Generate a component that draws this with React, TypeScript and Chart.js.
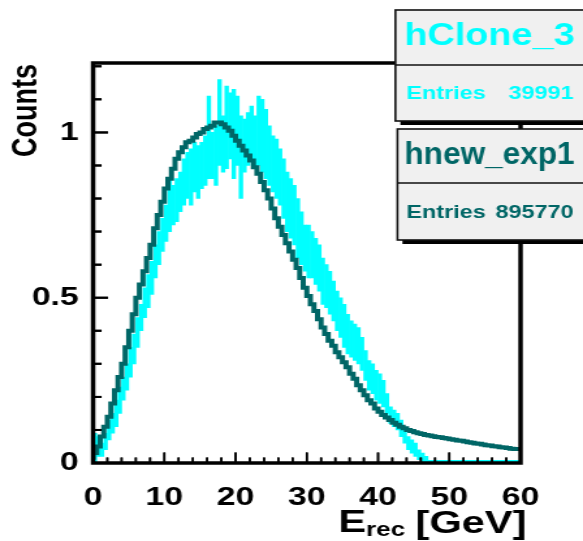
import React, { useEffect, useRef } from 'react';
import { Chart, registerables } from 'chart.js';

Chart.register(...registerables);

// The reference is a horizontally stretched ROOT canvas: draw on a narrower
// canvas and stretch it with CSS by the same factor.
const SX = 1.3;
const CANVAS_W = 448;
const CANVAS_H = 541;
const FONT = '"Liberation Sans", Arial, Helvetica, sans-serif';

const BIN_WIDTH = 0.5;
const X_MIN = 0;
const X_MAX = 60;
const Y_MAX = 1.21;

const xMajorTicks = [0, 10, 20, 30, 40, 50, 60];
const yMajorTicks = [0, 0.5, 1];
const xMinorStep = 2;
const yMinorStep = 0.1;

const xTitleMain = 'E';
const xTitleSub = 'rec';
const xTitleUnit = '[GeV]';
const yTitle = 'Counts';

// hnew_exp1 (dark teal), 0.5 GeV bins from 0 to 60
const darkCounts = [
  0.01, 0.03, 0.05, 0.08, 0.11, 0.14, 0.18, 0.22, 0.26, 0.30,
  0.35, 0.40, 0.45, 0.50, 0.54, 0.58, 0.62, 0.66, 0.71, 0.75,
  0.79, 0.83, 0.86, 0.89, 0.92, 0.94, 0.955, 0.97, 0.975, 0.985,
  0.995, 1.00, 1.01, 1.015, 1.02, 1.03, 1.03, 1.025, 1.015, 1.005,
  0.99, 0.975, 0.96, 0.945, 0.93, 0.915, 0.895, 0.875, 0.85, 0.825,
  0.80, 0.77, 0.74, 0.715, 0.69, 0.665, 0.64, 0.615, 0.59, 0.56,
  0.53, 0.505, 0.48, 0.46, 0.435, 0.41, 0.39, 0.37, 0.355, 0.335,
  0.32, 0.305, 0.29, 0.27, 0.255, 0.235, 0.22, 0.205, 0.19, 0.18,
  0.165, 0.155, 0.145, 0.138, 0.13, 0.122, 0.116, 0.11, 0.105, 0.10,
  0.097, 0.093, 0.09, 0.088, 0.085, 0.083, 0.081, 0.079, 0.078, 0.076,
  0.074, 0.072, 0.07, 0.068, 0.067, 0.065, 0.063, 0.061, 0.059, 0.058,
  0.056, 0.054, 0.053, 0.051, 0.05, 0.048, 0.047, 0.045, 0.043, 0.042,
];

// hClone_3 (cyan) error band: lower / upper edge per 0.5 GeV bin
const cyanLow = [
  0.00, 0.02, 0.02, 0.04, 0.07, 0.09, 0.11, 0.15, 0.19, 0.22,
  0.26, 0.30, 0.35, 0.40, 0.44, 0.47, 0.51, 0.56, 0.60, 0.64,
  0.67, 0.70, 0.72, 0.73, 0.76, 0.78, 0.80, 0.78, 0.82, 0.80,
  0.83, 0.84, 0.86, 0.86, 0.84, 0.90, 0.88, 0.89, 0.92, 0.86,
  0.90, 0.80, 0.88, 0.90, 0.92, 0.90, 0.90, 0.88, 0.86, 0.84,
  0.82, 0.80, 0.78, 0.74, 0.70, 0.68, 0.66, 0.62, 0.60, 0.58,
  0.56, 0.56, 0.54, 0.52, 0.48, 0.47, 0.45, 0.43, 0.40, 0.38,
  0.35, 0.33, 0.32, 0.31, 0.30, 0.28, 0.25, 0.22, 0.21, 0.19,
  0.18, 0.17, 0.15, 0.12, 0.11, 0.10, 0.08, 0.06, 0.04, 0.03,
  0.02, 0.01, 0, 0, 0, 0, 0, 0, 0, 0,
  0, 0, 0, 0, 0, 0, 0, 0, 0, 0,
  0, 0, 0, 0, 0, 0, 0, 0, 0, 0,
];
const cyanHigh = [
  0.09, 0.08, 0.06, 0.09, 0.13, 0.15, 0.19, 0.23, 0.26, 0.30,
  0.35, 0.39, 0.44, 0.48, 0.53, 0.57, 0.61, 0.66, 0.70, 0.74,
  0.78, 0.86, 0.84, 0.86, 0.88, 0.92, 0.94, 0.95, 0.97, 0.96,
  0.97, 0.99, 1.11, 1.00, 1.02, 1.16, 1.05, 1.14, 1.12, 1.13,
  1.11, 1.05, 1.04, 1.06, 1.08, 1.05, 1.11, 1.10, 1.07, 1.02,
  0.99, 0.98, 0.95, 0.92, 0.88, 0.86, 0.84, 0.80, 0.76, 0.72,
  0.72, 0.70, 0.68, 0.66, 0.62, 0.60, 0.58, 0.55, 0.52, 0.50,
  0.48, 0.45, 0.43, 0.42, 0.41, 0.38, 0.34, 0.31, 0.30, 0.28,
  0.27, 0.25, 0.21, 0.17, 0.16, 0.15, 0.13, 0.10, 0.08, 0.07,
  0.06, 0.04, 0.03, 0.02, 0.008, 0.008, 0.008, 0.008, 0.008, 0.008,
  0.008, 0.008, 0.008, 0.008, 0.008, 0.008, 0.008, 0.008, 0.008, 0.008,
  0.008, 0.008, 0.008, 0.008, 0.008, 0.008, 0.008, 0.008, 0.008, 0.008,
];

const statNames = ['hClone_3', 'hnew_exp1'];
const statEntries = ['39991', '895770'];
const statColors = ['#00ffff', '#006666'];

const DARK = '#006666';
const CYAN = '#00ffff';

// layout (internal canvas px; x values divided by stretch)
const AREA_LEFT = 93 / SX;
const AREA_RIGHT = 520 / SX;
const AREA_TOP = 63;
const AREA_BOTTOM = 463;
const Y_MAJOR_LEN = 11.5;
const Y_MINOR_LEN = 6.5;
const X_MAJOR_LEN = 10.5;
const X_MINOR_LEN = 5.5;
const PX_PER_X = (AREA_RIGHT - AREA_LEFT) / (X_MAX - X_MIN);
const PX_PER_Y = (AREA_BOTTOM - AREA_TOP) / Y_MAX;

const boxLayout = [
  { left: 395 / SX, top: 10, bottom: 121, divider: 65, titleBase: 45, entriesBase: 99 },
  { left: 397 / SX, top: 129, bottom: 240, divider: 183, titleBase: 164, entriesBase: 218 },
];

const isMajor = (list: number[], v: number) => list.some((t) => Math.abs(t - v) < 1e-6);

const xTickValues: number[] = [];
for (let i = 0; i <= Math.round((X_MAX - X_MIN) / xMinorStep); i++) xTickValues.push(X_MIN + i * xMinorStep);
const yTickValues: number[] = [];
for (let i = 0; i <= Math.round(Y_MAX / yMinorStep - 0.5); i++) yTickValues.push(Math.round(i * yMinorStep * 10) / 10);

function drawTicks(chart: any) {
  const ctx: CanvasRenderingContext2D = chart.ctx;
  const a = chart.chartArea;
  const xs = chart.scales['x'];
  const ys = chart.scales['y'];
  ctx.save();
  ctx.fillStyle = '#000000';
  for (const v of yTickValues) {
    const py = ys.getPixelForValue(v);
    ctx.fillRect(a.left, py - 1, isMajor(yMajorTicks, v) ? Y_MAJOR_LEN : Y_MINOR_LEN, 2);
  }
  for (const v of xTickValues) {
    const px = xs.getPixelForValue(v);
    const len = isMajor(xMajorTicks, v) ? X_MAJOR_LEN : X_MINOR_LEN;
    ctx.fillRect(px - 0.8, a.bottom - len, 1.6, len);
  }
  ctx.restore();
}

function drawFrame(chart: any) {
  const ctx: CanvasRenderingContext2D = chart.ctx;
  const a = chart.chartArea;
  ctx.save();
  ctx.strokeStyle = '#000000';
  ctx.lineWidth = 3.5;
  ctx.strokeRect(a.left, a.top, a.right - a.left, a.bottom - a.top);
  ctx.restore();
}

function drawTitlesAndBoxes(chart: any) {
  const ctx: CanvasRenderingContext2D = chart.ctx;
  ctx.save();
  ctx.fillStyle = '#000';
  ctx.textBaseline = 'alphabetic';

  // y title
  ctx.save();
  ctx.translate(37 / SX, 64);
  ctx.rotate(-Math.PI / 2);
  ctx.font = `bold 27px ${FONT}`;
  ctx.textAlign = 'right';
  ctx.fillText(yTitle, 0, 0);
  ctx.restore();

  // x title: E_rec [GeV]
  ctx.textAlign = 'left';
  const fMain = `bold 32px ${FONT}`;
  const fSub = `bold 20px ${FONT}`;
  ctx.font = fMain;
  const wUnit = ctx.measureText(xTitleUnit).width;
  const wE = ctx.measureText(xTitleMain).width;
  ctx.font = fSub;
  const wSub = ctx.measureText(xTitleSub).width;
  const xRight = 526 / SX;
  const xUnit = xRight - wUnit;
  const xSub = xUnit - 8 - wSub;
  const xE = xSub - wE;
  ctx.font = fMain;
  ctx.fillText(xTitleUnit, xUnit, 533);
  ctx.fillText(xTitleMain, xE, 532);
  ctx.font = fSub;
  ctx.fillText(xTitleSub, xSub, 536);

  // stat boxes
  const boxRight = CANVAS_W + 20;
  for (let i = 0; i < statNames.length; i++) {
    const b = boxLayout[i];
    const h = b.bottom - b.top;
    ctx.fillStyle = '#000';
    ctx.fillRect(b.left + 5 / SX, b.top + 4, boxRight - b.left, h);
    ctx.fillStyle = '#f0f0f0';
    ctx.fillRect(b.left, b.top, boxRight - b.left, h);
    ctx.strokeStyle = '#111';
    ctx.lineWidth = 1.6;
    ctx.strokeRect(b.left, b.top, boxRight - b.left, h);
    ctx.beginPath();
    ctx.moveTo(b.left, b.divider);
    ctx.lineTo(boxRight, b.divider);
    ctx.stroke();

    ctx.fillStyle = statColors[i];
    ctx.font = `bold 31px ${FONT}`;
    ctx.textAlign = 'center';
    ctx.fillText(statNames[i], 489 / SX, b.titleBase, 170 / SX);
    ctx.font = `bold 18px ${FONT}`;
    ctx.textAlign = 'left';
    ctx.fillText('Entries', 406 / SX, b.entriesBase);
    ctx.textAlign = 'right';
    ctx.fillText(statEntries[i], 573 / SX, b.entriesBase);
  }
  ctx.restore();
}

const decorPlugin = {
  id: 'rootDecor',
  afterDraw(chart: any) {
    drawTicks(chart);
    drawFrame(chart);
    drawTitlesAndBoxes(chart);
  },
};

export default function App() {
  const ref = useRef<HTMLCanvasElement | null>(null);

  useEffect(() => {
    if (!ref.current) return;
    const darkPoints = darkCounts.map((v, i) => ({ x: X_MIN + i * BIN_WIDTH, y: v }));
    darkPoints.push({ x: X_MIN + darkCounts.length * BIN_WIDTH, y: darkCounts[darkCounts.length - 1] });
    const cyanBars = cyanLow.map((lo, i) => ({ x: X_MIN + (i + 0.5) * BIN_WIDTH, y: [lo, cyanHigh[i]] }));

    // axis tick marks, drawn inward from the left and bottom axes
    const yTickSegs: any[] = [];
    for (const v of yTickValues) {
      const len = (isMajor(yMajorTicks, v) ? Y_MAJOR_LEN : Y_MINOR_LEN) / PX_PER_X;
      yTickSegs.push({ x: X_MIN, y: v }, { x: X_MIN + len, y: v }, { x: X_MIN + len, y: null });
    }
    const xTickSegs: any[] = [];
    for (const v of xTickValues) {
      const len = (isMajor(xMajorTicks, v) ? X_MAJOR_LEN : X_MINOR_LEN) / PX_PER_Y;
      xTickSegs.push({ x: v, y: 0 }, { x: v, y: len }, { x: v, y: null });
    }

    const chart = new Chart(ref.current, {
      type: 'bar',
      data: {
        datasets: [
          {
            type: 'line',
            label: 'yTicks',
            data: yTickSegs,
            borderColor: '#000',
            borderWidth: 2,
            borderCapStyle: 'butt',
            pointRadius: 0,
            spanGaps: false,
            fill: false,
            clip: false,
          } as any,
          {
            type: 'line',
            label: 'xTicks',
            data: xTickSegs,
            borderColor: '#000',
            borderWidth: 1.6,
            borderCapStyle: 'butt',
            pointRadius: 0,
            spanGaps: false,
            fill: false,
            clip: false,
          } as any,
          {
            type: 'line',
            label: 'hnew_exp1',
            data: darkPoints as any,
            borderColor: DARK,
            borderWidth: 4,
            pointRadius: 0,
            stepped: 'after',
            fill: false,
          } as any,
          {
            type: 'bar',
            label: 'hClone_3',
            data: cyanBars as any,
            backgroundColor: CYAN,
            borderWidth: 0,
            barPercentage: 1,
            categoryPercentage: 1,
            grouped: false,
          } as any,
        ],
      },
      options: {
        responsive: false,
        animation: false,
        devicePixelRatio: 1,
        layout: { padding: { left: 0, top: AREA_TOP, right: CANVAS_W - AREA_RIGHT, bottom: 0 } },
        plugins: { legend: { display: false }, tooltip: { enabled: false } },
        scales: {
          x: {
            type: 'linear',
            offset: false,
            min: X_MIN,
            max: X_MAX,
            grid: { display: false, drawTicks: false, offset: false },
            border: { display: false },
            afterBuildTicks: (s: any) => {
              s.ticks = xMajorTicks.map((v) => ({ value: v }));
            },
            afterFit: (s: any) => {
              s.height = CANVAS_H - AREA_BOTTOM;
            },
            ticks: {
              autoSkip: false,
              maxRotation: 0,
              minRotation: 0,
              padding: 19,
              color: '#000',
              font: { family: FONT, size: 26, weight: 'bold' },
              callback: (v: any) => String(v),
            },
          },
          y: {
            type: 'linear',
            min: 0,
            max: Y_MAX,
            grid: { display: false, drawTicks: false },
            border: { display: false },
            afterBuildTicks: (s: any) => {
              s.ticks = yMajorTicks.map((v) => ({ value: v }));
            },
            afterFit: (s: any) => {
              s.width = AREA_LEFT;
            },
            ticks: {
              autoSkip: false,
              padding: 11,
              color: '#000',
              font: { family: FONT, size: 26, weight: 'bold' },
              callback: (v: any) => String(v),
            },
          },
        },
      } as any,
      plugins: [decorPlugin],
    });
    return () => chart.destroy();
  }, []);

  return (
    <div style={{ position: 'fixed', left: 0, top: 0, width: 583, height: 541, background: '#fff' }}>
      <canvas
        ref={ref}
        width={CANVAS_W}
        height={CANVAS_H}
        style={{ width: '583px', height: '541px', display: 'block' }}
      />
    </div>
  );
}
